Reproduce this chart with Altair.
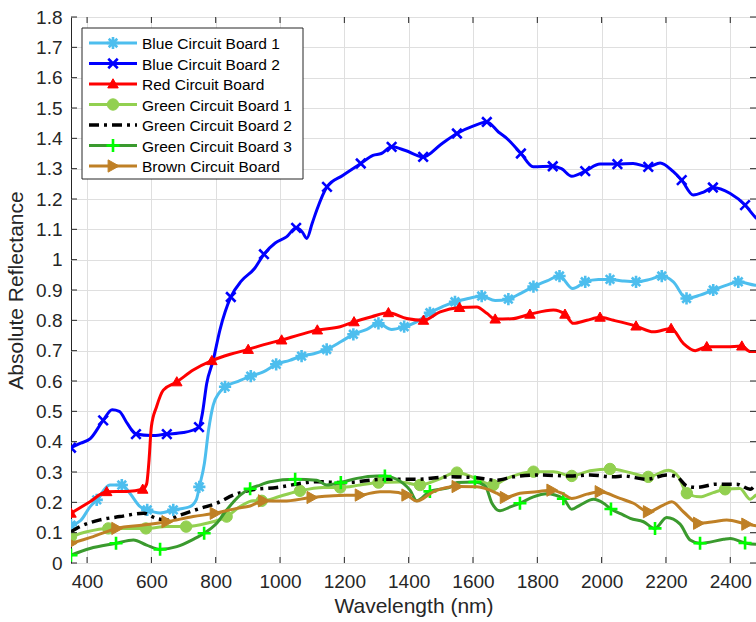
import altair as alt
import pandas as pd

FONT = "Liberation Sans"
AX = "#262626"

# ---- series names -------------------------------------------------------
NAMES = [
    "Blue Circuit Board 1",
    "Blue Circuit Board 2",
    "Red Circuit Board",
    "Green Circuit Board 1",
    "Green Circuit Board 2",
    "Green Circuit Board 3",
    "Brown Circuit Board",
]

# ---- spectra (wavelength in nm, absolute reflectance) --------------------
blue1_wl = [350, 380, 409, 430, 471, 508, 533, 565, 587, 627, 668, 720, 740, 749, 765, 778, 792, 810, 829, 865,
            909, 948, 988, 1030, 1067, 1105, 1145, 1190, 1228, 1270, 1306, 1347, 1386, 1425, 1466, 1505, 1544, 1585,
            1627, 1669, 1710, 1750, 1788, 1830, 1869, 1910, 1949, 1990, 2026, 2065, 2107, 2150, 2187, 2223, 2264,
            2306, 2347, 2389, 2425, 2477, 2500]
blue1_r = [.125, .14, .185, .208, .257, .257, .23, .186, .175, .165, .175, .186, .21, .251, .33, .44, .52, .56, .581,
           .597, .616, .63, .655, .668, .682, .69, .704, .73, .754, .77, .79, .77, .779, .795, .825, .845, .861, .872,
           .88, .865, .87, .89, .911, .93, .946, .905, .927, .935, .935, .93, .927, .935, .946, .927, .872, .883, .90,
           .916, .927, .916, .915]
blue1_mk_wl = [350, 430, 508, 587, 668, 749, 829, 909, 988, 1067, 1145, 1228, 1306, 1386, 1466, 1544, 1627, 1710,
               1788, 1869, 1949, 2026, 2107, 2187, 2264, 2347, 2425]
blue1_mk_r = [.125, .208, .257, .175, .175, .251, .581, .616, .655, .682, .704, .754, .79, .779, .825, .861, .88, .87,
              .911, .946, .927, .935, .927, .946, .872, .90, .927]

blue2_wl = [350, 380, 410, 450, 478, 500, 525, 552, 600, 648, 700, 748, 758, 772, 792, 813, 847, 880, 920, 950,
            985, 1020, 1050, 1070, 1083, 1100, 1114, 1146, 1196, 1251, 1289, 1315, 1347, 1390, 1445, 1500, 1550, 1600,
            1643, 1680, 1705, 1749, 1787, 1848, 1875, 1907, 1949, 1995, 2049, 2098, 2145, 2182, 2223, 2249, 2285,
            2317, 2346, 2400, 2446, 2477, 2500]
blue2_r = [.38, .395, .41, .47, .505, .50, .46, .425, .42, .425, .43, .448, .49, .592, .668, .768, .877, .93, .97,
           1.018, 1.055, 1.075, 1.105, 1.09, 1.07, 1.12, 1.163, 1.24, 1.278, 1.317, 1.344, 1.35, 1.372, 1.36, 1.339,
           1.38, 1.416, 1.44, 1.454, 1.42, 1.40, 1.35, 1.306, 1.308, 1.30, 1.275, 1.292, 1.315, 1.315, 1.317, 1.306,
           1.319, 1.29, 1.262, 1.213, 1.223, 1.238, 1.218, 1.18, 1.141, 1.12]
blue2_mk_wl = [350, 450, 552, 648, 748, 847, 950, 1050, 1146, 1251, 1347, 1445, 1550, 1643, 1749, 1848, 1949, 2049,
               2145, 2249, 2346, 2446]
blue2_mk_r = [.38, .47, .425, .425, .448, .877, 1.018, 1.105, 1.24, 1.317, 1.372, 1.339, 1.416, 1.454, 1.35, 1.308,
              1.292, 1.315, 1.306, 1.262, 1.238, 1.18]

red_wl = [350, 409, 461, 523, 573, 585, 592, 600, 616, 637, 679, 730, 788, 845, 901, 950, 1005, 1060, 1116, 1187,
          1230, 1285, 1337, 1394, 1446, 1498, 1558, 1612, 1643, 1669, 1720, 1777, 1850, 1886, 1912, 1954, 1995, 2037,
          2107, 2161, 2216, 2254, 2291, 2327, 2389, 2436, 2462, 2500]
red_r = [.164, .202, .235, .236, .243, .26, .33, .45, .515, .57, .597, .636, .667, .688, .704, .72, .735, .752, .768,
         .779, .795, .812, .825, .806, .80, .828, .842, .844, .823, .804, .805, .82, .834, .82, .79, .80, .81, .80,
         .781, .762, .773, .724, .70, .713, .713, .715, .697, .697]
red_mk_wl = [350, 461, 573, 679, 788, 901, 1005, 1116, 1230, 1337, 1446, 1558, 1669, 1777, 1886, 1995, 2107, 2216,
             2327, 2436]
red_mk_r = [.164, .235, .243, .597, .667, .704, .735, .768, .795, .825, .80, .842, .804, .82, .82, .81, .781, .773,
            .713, .715]

green1_wl = [350, 399, 466, 523, 583, 648, 708, 772, 834, 876, 917, 943, 1000, 1062, 1135, 1187, 1249, 1306, 1373,
             1435, 1487, 1550, 1601, 1663, 1705, 1788, 1850, 1907, 1964, 2026, 2089, 2145, 2208, 2239, 2265, 2306,
             2347, 2384, 2430, 2462, 2480, 2500]
green1_r = [.087, .103, .114, .114, .114, .12, .12, .131, .153, .186, .205, .205, .22, .238, .249, .249, .257, .265,
            .267, .257, .273, .298, .282, .257, .279, .301, .301, .287, .304, .31, .298, .284, .306, .284, .23, .218,
            .232, .243, .246, .21, .224, .23]
green1_mk_wl = [350, 466, 583, 708, 834, 943, 1062, 1187, 1306, 1435, 1550, 1663, 1788, 1907, 2026, 2145, 2265, 2384]
green1_mk_r = [.087, .114, .114, .12, .153, .205, .238, .249, .265, .257, .298, .257, .301, .287, .31, .284, .23, .243]

green2_wl = [350, 378, 440, 502, 575, 616, 648, 689, 751, 803, 855, 907, 990, 1114, 1197, 1321, 1425, 1529, 1601,
             1674, 1726, 1809, 1902, 1964, 2037, 2068, 2140, 2202, 2234, 2265, 2296, 2358, 2420, 2462, 2480, 2500]
green2_r = [.103, .12, .142, .153, .164, .147, .142, .158, .18, .197, .224, .24, .249, .268, .265, .276, .276, .284,
            .282, .273, .284, .29, .287, .29, .284, .287, .276, .29, .284, .254, .249, .26, .26, .243, .257, .26]

green3_wl = [350, 409, 490, 544, 585, 627, 679, 730, 764, 803, 834, 876, 907, 938, 969, 1047, 1114, 1145, 1189, 1239,
             1301, 1326, 1363, 1404, 1425, 1466, 1529, 1550, 1606, 1638, 1659, 1684, 1716, 1746, 1788, 1829, 1881,
             1907, 1933, 1975, 2006, 2029, 2068, 2089, 2130, 2166, 2202, 2244, 2275, 2306, 2379, 2400, 2446, 2480,
             2500]
green3_r = [.026, .048, .065, .076, .059, .045, .054, .078, .098, .131, .175, .224, .245, .257, .268, .276, .273, .257,
            .265, .279, .287, .287, .276, .24, .205, .236, .25, .265, .267, .254, .197, .172, .185, .197, .218, .228,
            .212, .177, .191, .21, .197, .178, .158, .147, .136, .114, .15, .128, .076, .065, .078, .081, .066, .062,
            .062]
green3_mk_wl = [350, 490, 627, 764, 907, 1047, 1189, 1326, 1466, 1606, 1746, 1881, 2029, 2166, 2306, 2446]
green3_mk_r = [.026, .065, .045, .098, .245, .276, .265, .287, .236, .267, .197, .212, .178, .114, .065, .066]

brown_wl = [350, 419, 492, 575, 648, 730, 798, 865, 907, 948, 1010, 1099, 1166, 1249, 1311, 1342, 1394, 1425, 1477,
            1550, 1612, 1674, 1700, 1746, 1798, 1845, 1876, 1907, 1954, 1995, 2057, 2099, 2145, 2192, 2218, 2254,
            2301, 2347, 2389, 2451, 2480, 2500]
brown_r = [.065, .087, .114, .125, .136, .153, .164, .18, .188, .205, .204, .216, .222, .224, .235, .235, .224, .204,
           .235, .252, .251, .23, .216, .23, .235, .24, .23, .213, .227, .235, .213, .197, .169, .191, .202, .169,
           .131, .136, .142, .128, .123, .122]
brown_mk_wl = [350, 492, 648, 798, 948, 1099, 1249, 1394, 1550, 1700, 1845, 1995, 2145, 2301, 2451]
brown_mk_r = [.065, .114, .136, .164, .205, .216, .224, .224, .252, .216, .24, .235, .169, .131, .128]

# ---- axes ----------------------------------------------------------------
X_TICKS = [400, 600, 800, 1000, 1200, 1400, 1600, 1800, 2000, 2200, 2400]
Y_TICKS = [0, 0.1, 0.2, 0.3, 0.4, 0.5, 0.6, 0.7, 0.8, 0.9, 1.0, 1.1, 1.2, 1.3, 1.4, 1.5, 1.6, 1.7, 1.8]
X_DOMAIN = [350, 2480]
Y_DOMAIN = [0, 1.8]

W, H = 685, 546

# ---- marker glyphs (unit-square SVG paths) -------------------------------
ASTERISK = "M0,-1L0,1M-1,0L1,0M-0.7,-0.7L0.7,0.7M-0.7,0.7L0.7,-0.7"
CROSS_X = "M-1,-1L1,1M-1,1L1,-1"
PLUS = "M0,-1L0,1M-1,0L1,0"
TRI_UP = "M0,-1L1,0.75L-1,0.75Z"
TRI_RIGHT = "M-0.8,-1L1,0L-0.8,1Z"

# name, line colour, dash, marker path, marker colour, filled, marker size, data
STYLES = [
    (NAMES[0], "#4DBEEE", None, ASTERISK, "#4DBEEE", False, 150, blue1_wl, blue1_r, blue1_mk_wl, blue1_mk_r),
    (NAMES[1], "#0000FF", None, CROSS_X, "#0000FF", False, 90, blue2_wl, blue2_r, blue2_mk_wl, blue2_mk_r),
    (NAMES[2], "#FF0000", None, TRI_UP, "#FF0000", True, 110, red_wl, red_r, red_mk_wl, red_mk_r),
    (NAMES[3], "#92D050", None, "circle", "#92D050", True, 130, green1_wl, green1_r, green1_mk_wl, green1_mk_r),
    (NAMES[4], "#000000", [10, 5, 3, 5], None, None, False, 0, green2_wl, green2_r, None, None),
    (NAMES[5], "#3A9A2E", None, PLUS, "#00FF00", False, 170, green3_wl, green3_r, green3_mk_wl, green3_mk_r),
    (NAMES[6], "#BF8026", None, TRI_RIGHT, "#BF8026", True, 150, brown_wl, brown_r, brown_mk_wl, brown_mk_r),
]

X = alt.X(
    "wl:Q",
    scale=alt.Scale(domain=X_DOMAIN, nice=False, zero=False),
    axis=alt.Axis(
        values=X_TICKS, format="d", title="Wavelength (nm)", grid=True, gridColor="#DFDFDF",
        ticks=False, domain=False, labelFontSize=19, labelFont=FONT, labelColor=AX, labelPadding=9,
        titleFontSize=21, titleFont=FONT, titleFontWeight="normal", titleColor=AX, titlePadding=4,
        labelFlush=False,
    ),
)
Y = alt.Y(
    "r:Q",
    scale=alt.Scale(domain=Y_DOMAIN, nice=False, zero=True),
    axis=alt.Axis(
        values=Y_TICKS, format="~g", title="Absolute Reflectance", grid=True, gridColor="#DFDFDF",
        ticks=False, domain=False, labelFontSize=19, labelFont=FONT, labelColor=AX, labelPadding=9,
        titleFontSize=21, titleFont=FONT, titleFontWeight="normal", titleColor=AX, titlePadding=9,
        labelFlush=False,
    ),
)

layers = []

# spectra and their markers, in plotting order
for name, lc, dash, shape, mc, filled, msize, wl, r, mwl, mr in STYLES:
    df = pd.DataFrame({"wl": wl, "r": r})
    line_kw = dict(interpolate="monotone", color=lc, strokeWidth=3, clip=True, strokeJoin="round")
    if dash:
        line_kw.update(strokeDash=dash, strokeWidth=3.5, strokeCap="butt")
    else:
        line_kw.update(strokeCap="round")
    layers.append(alt.Chart(df).mark_line(**line_kw).encode(x=X, y=Y))
    if shape:
        dm = pd.DataFrame({"wl": mwl, "r": mr})
        pt_kw = dict(shape=shape, size=msize, opacity=1, clip=True)
        if filled:
            pt_kw.update(filled=True, fill=mc, stroke=mc, strokeWidth=1)
        else:
            pt_kw.update(filled=False, stroke=mc, strokeWidth=2.6)
        layers.append(alt.Chart(dm).mark_point(**pt_kw).encode(x=X, y=Y))

# inward tick marks on all four sides of the box
xt = pd.DataFrame({"wl": X_TICKS})
yt = pd.DataFrame({"r": Y_TICKS})
tick_kw = dict(color=AX, strokeWidth=1)
layers += [
    alt.Chart(xt).mark_rule(**tick_kw).encode(x=X, y=alt.value(0), y2=alt.value(6)),
    alt.Chart(xt).mark_rule(**tick_kw).encode(x=X, y=alt.value(H - 6), y2=alt.value(H)),
    alt.Chart(yt).mark_rule(**tick_kw).encode(y=Y, x=alt.value(0), x2=alt.value(6)),
    alt.Chart(yt).mark_rule(**tick_kw).encode(y=Y, x=alt.value(W - 6), x2=alt.value(W)),
]

# legend box
LEG_X0, LEG_X1, LEG_Y0, LEG_Y1 = 11, 232, 11, 162
ROW0, ROW_STEP = 26, 20.5
layers.append(
    alt.Chart(pd.DataFrame({"k": [0]})).mark_rect(fill="white", stroke=AX, strokeWidth=1).encode(
        x=alt.value(LEG_X0), x2=alt.value(LEG_X1), y=alt.value(LEG_Y0), y2=alt.value(LEG_Y1)
    )
)
for i, (name, lc, dash, shape, mc, filled, msize, *_rest) in enumerate(STYLES):
    yy = ROW0 + i * ROW_STEP
    one = pd.DataFrame({"name": [name]})
    rule_kw = dict(color=lc, strokeWidth=3)
    if dash:
        rule_kw.update(strokeDash=dash, strokeWidth=3.5, strokeCap="butt")
    layers.append(alt.Chart(one).mark_rule(**rule_kw).encode(
        x=alt.value(18), x2=alt.value(66), y=alt.value(yy)))
    if shape:
        pt_kw = dict(shape=shape, size=msize, opacity=1)
        if filled:
            pt_kw.update(filled=True, fill=mc, stroke=mc, strokeWidth=1)
        else:
            pt_kw.update(filled=False, stroke=mc, strokeWidth=2.6)
        layers.append(alt.Chart(one).mark_point(**pt_kw).encode(x=alt.value(42), y=alt.value(yy)))
    layers.append(alt.Chart(one).mark_text(
        align="left", baseline="middle", font=FONT, fontSize=15.5, color="#000000"
    ).encode(x=alt.value(71), y=alt.value(yy + 1), text="name:N"))

chart = (
    alt.layer(*layers)
    .properties(
        width=W,
        height=H,
        padding={"left": 71, "top": 17, "right": 0, "bottom": 59},
        autosize=alt.AutoSizeParams(type="none"),
        background="white",
    )
    .configure_view(stroke=AX, strokeWidth=1)
)

chart.save("out.html", embed_options={"renderer": "svg", "actions": False})
